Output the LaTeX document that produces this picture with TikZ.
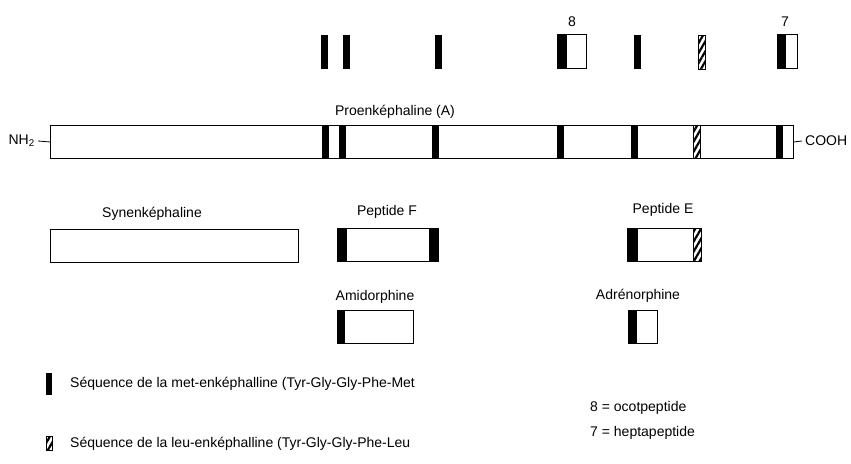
\documentclass[tikz,border=0pt]{standalone}
\usepackage{fontspec}
\setmainfont{Liberation Sans}
\usetikzlibrary{patterns.meta}

\begin{document}
\begin{tikzpicture}[
  x=1pt, y=-1pt,
  seg/.style={draw, line width=0.9pt, fill=white, inner sep=0pt, anchor=north west},
  metmark/.style={fill=black},
  leumark/.style={draw, line width=0.9pt, pattern={Lines[angle=60, distance=5pt, line width=2.2pt]}},
  lbl/.style={font=\fontsize{14}{16}\selectfont, inner sep=0pt}
]
  \useasboundingbox (0,0) rectangle (851,463);

  % Top row: sequences cut out
  \foreach \xa in {321,343,435,634}
    \fill[metmark] (\xa,35) rectangle ++(7,34);
  \node[seg, minimum width=29, minimum height=34] (oct) at (557,34) {};
  \fill[metmark] (oct.north west) rectangle ++(10,34);
  \draw[leumark] (698,35) rectangle ++(7,34);
  \node[seg, minimum width=20, minimum height=34] (hept) at (777,34) {};
  \fill[metmark] (hept.north west) rectangle ++(9,34);
  \node[lbl] (octnum) at (572,22) {8};
  \node[lbl] (heptnum) at (785,22) {7};

  % Precursor
  \node[lbl] (proname) at (395,112) {Proenképhaline (A)};
  \node[seg, minimum width=743, minimum height=33] (bar) at (50,125) {};
  \foreach \xa in {322,339,432,557,631,776}
    \fill[metmark] (\xa,125) rectangle ++(7,33);
  \draw[leumark] (693,125) rectangle ++(7,33);
  \node[lbl, anchor=east] (nh2) at (35,141) {NH\textsubscript{2}};
  \node[lbl, anchor=west] (cooh) at (805,141) {COOH};
  \draw[line width=0.8pt] ([xshift=3pt]nh2.east) -- (bar.west);
  \draw[line width=0.8pt] (bar.east) -- ([xshift=-3pt]cooh.west);

  % Fragments
  \node[lbl] (synname) at (152,214) {Synenképhaline};
  \node[seg, minimum width=248, minimum height=33] (syn) at (50,229) {};

  \node[lbl] (pepFname) at (387,212) {Peptide F};
  \node[seg, minimum width=101, minimum height=33] (pepF) at (337,228) {};
  \fill[metmark] (pepF.north west) rectangle ++(10,33);
  \fill[metmark] (pepF.north east) rectangle ++(-10,33);

  \node[lbl] (pepEname) at (663,210) {Peptide E};
  \node[seg, minimum width=74, minimum height=33] (pepE) at (627,228) {};
  \fill[metmark] (pepE.north west) rectangle ++(11,33);
  \draw[leumark] ([xshift=-8pt]pepE.north east) rectangle (pepE.south east);

  \node[lbl] (amidoname) at (375,297) {Amidorphine};
  \node[seg, minimum width=76, minimum height=33] (amido) at (337,310) {};
  \fill[metmark] (amido.north west) rectangle ++(8,33);

  \node[lbl] (adrenoname) at (638,296) {Adrénorphine};
  \node[seg, minimum width=29, minimum height=33] (adreno) at (628,310) {};
  \fill[metmark] (adreno.north west) rectangle ++(9,33);

  % Legend
  \fill[metmark] (46,373) rectangle (52,395);
  \node[lbl, anchor=west] (metkey) at (70,384) {Séquence de la met-enképhalline (Tyr-Gly-Gly-Phe-Met};
  \draw[leumark] (46,436) rectangle (52,450);
  \node[lbl, anchor=west] (leukey) at (70,444) {Séquence de la leu-enképhalline (Tyr-Gly-Gly-Phe-Leu};
  \node[lbl, anchor=west] (octkey) at (590,408) {8 = ocotpeptide};
  \node[lbl, anchor=west] (heptkey) at (590,433) {7 = heptapeptide};
\end{tikzpicture}
\end{document}
